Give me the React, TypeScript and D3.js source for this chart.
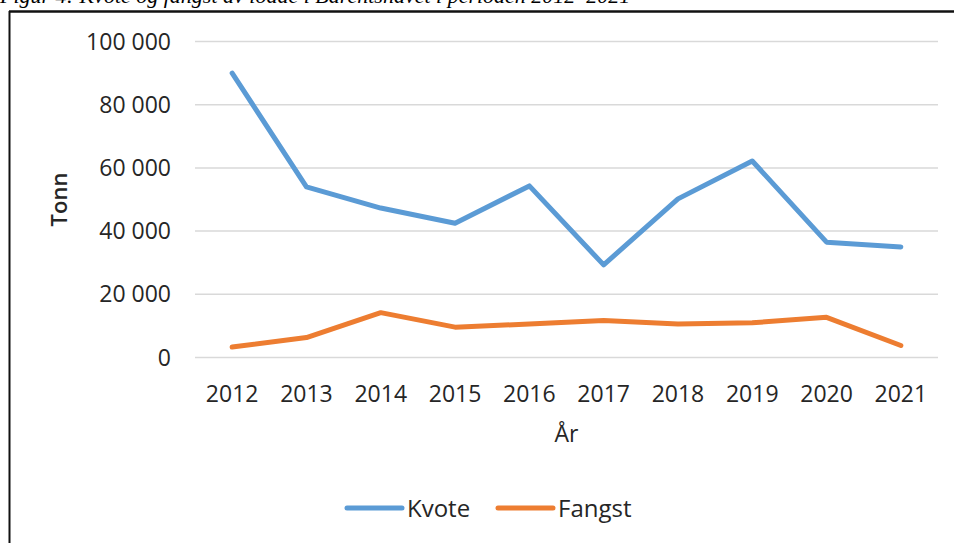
import React from "react";
import * as d3 from "d3";

const years = ["2012", "2013", "2014", "2015", "2016", "2017", "2018", "2019", "2020", "2021"];
const kvote = [90000, 54000, 47300, 42500, 54300, 29300, 50200, 62200, 36500, 35000];
const fangst = [3300, 6300, 14200, 9600, 10600, 11700, 10600, 11000, 12700, 3800];
const yTicks = [0, 20000, 40000, 60000, 80000, 100000];
const seriesNames = ["Kvote", "Fangst"];
const seriesColors = ["#5B9BD5", "#ED7D31"];
const caption = "Figur 4: Kvote og fangst av lodde i Barentshavet i perioden 2012–2021";

const W = 954;
const H = 543;

export default function App() {
  const x = d3.scalePoint<string>().domain(years).range([195, 938]).padding(0.5);
  const y = d3.scaleLinear().domain([0, 100000]).range([357.5, 41.5]);
  const loc = d3.formatLocale({ decimal: ",", thousands: " ", grouping: [3], currency: ["", ""] });
  const fmt = loc.format(",d");
  const line = d3
    .line<number>()
    .x((_, i) => x(years[i]) as number)
    .y((d) => y(d));
  const series = [kvote, fangst];
  const font = "'Open Sans', sans-serif";
  const textColor = "#262626";
  const legendX = [347, 498];

  return (
    <svg
      width={W}
      height={H}
      style={{ position: "absolute", left: 0, top: 0, background: "#fff" }}
    >
      <rect x={0} y={0} width={W} height={H} fill="#fff" />
      <defs>
        <clipPath id="capclip">
          <rect x={0} y={0} width={W} height={10} />
        </clipPath>
      </defs>
      <text
        x={0}
        y={3}
        clipPath="url(#capclip)"
        fontFamily="'Liberation Serif', serif"
        fontStyle="italic"
        fontSize={22}
        fill="#000"
      >
        {caption}
      </text>
      {/* frame */}
      <line x1={9} x2={W} y1={11.5} y2={11.5} stroke="#111" strokeWidth={2.5} />
      <line x1={9.5} x2={9.5} y1={11} y2={H} stroke="#111" strokeWidth={2} />

      {/* gridlines */}
      {yTicks.map((t) => (
        <line key={t} x1={195} x2={938} y1={y(t)} y2={y(t)} stroke="#d9d9d9" strokeWidth={1.5} />
      ))}
      {/* y tick labels */}
      {yTicks.map((t) => (
        <text
          key={"l" + t}
          x={171}
          y={y(t)}
          dy="0.35em"
          textAnchor="end"
          fontFamily={font}
          fontSize={23}
          fill={textColor}
        >
          {fmt(t)}
        </text>
      ))}
      {/* x tick labels */}
      {years.map((yr) => (
        <text
          key={yr}
          x={x(yr) as number}
          y={402}
          textAnchor="middle"
          fontFamily={font}
          fontSize={23}
          fill={textColor}
        >
          {yr}
        </text>
      ))}
      {/* axis titles */}
      <text x={566.5} y={442} textAnchor="middle" fontFamily={font} fontSize={23} fill={textColor}>
        År
      </text>
      <text
        transform={`translate(67,${(y(0) + y(100000)) / 2}) rotate(-90)`}
        textAnchor="middle"
        fontFamily={font}
        fontSize={22}
        fontWeight={600}
        fill={textColor}
      >
        Tonn
      </text>

      {/* lines */}
      {series.map((s, i) => (
        <path
          key={seriesNames[i]}
          d={line(s) || ""}
          fill="none"
          stroke={seriesColors[i]}
          strokeWidth={5}
          strokeLinecap="round"
          strokeLinejoin="round"
        />
      ))}

      {/* legend */}
      {seriesNames.map((n, i) => (
        <g key={"lg" + n}>
          <line
            x1={legendX[i]}
            x2={legendX[i] + 55}
            y1={508}
            y2={508}
            stroke={seriesColors[i]}
            strokeWidth={5}
            strokeLinecap="round"
          />
          <text x={legendX[i] + 60} y={517} fontFamily={font} fontSize={24} fill={textColor}>
            {n}
          </text>
        </g>
      ))}
    </svg>
  );
}
